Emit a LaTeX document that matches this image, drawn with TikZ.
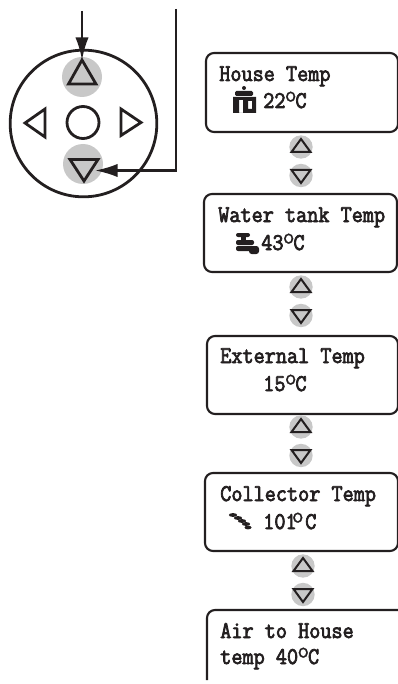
\documentclass[tikz,border=0pt]{standalone}
\usepackage{fontspec}
\usetikzlibrary{arrows.meta}
\newfontfamily\lcdfont{Latin Modern Mono}[FakeBold=3,FakeStretch=0.9]
\newfontfamily\degfont{Latin Modern Mono}[FakeBold=1]
\definecolor{ink}{HTML}{231F20}
\definecolor{padgray}{HTML}{C8C8C8}
\newcommand{\degs}{\kern-0.5pt\smash{\raisebox{4.8pt}{\fontsize{17pt}{17pt}\selectfont\degfont o}}\kern-0.8pt}
\tikzset{
  x=0.75pt,y=-0.75pt,
  ink line/.style={draw=ink,line width=2.1pt,line join=miter},
  lcdbox/.style={draw=ink,line width=1.6pt,rounded corners=6pt},
  lcdtext/.style={anchor=base west,inner sep=0pt,text=ink,font=\fontsize{18pt}{20pt}\selectfont\lcdfont},
  pad/.style={circle,fill=padgray,minimum size=30pt,inner sep=0pt},
  smallpad/.style={circle,fill=padgray,minimum size=17.5pt,inner sep=0pt},
  feed/.style={draw=ink,line width=1.7pt,-{Latex[length=17pt,width=10pt,inset=4pt]}},
  pic icon/.style={fill=ink,draw=none},
}
\newcommand{\smallarrows}[3]{%
  \node[smallpad] (#1u) at (#2,#3) {};
  \node[smallpad] (#1d) at (#2,#3+28.5) {};
  \draw[draw=ink,line width=1.5pt] (#2-9.5,#3+5) -- (#2,#3-8) -- (#2+9.5,#3+5) -- cycle;
  \draw[draw=ink,line width=1.5pt] (#2-9.5,#3+23) -- (#2,#3+36) -- (#2+9.5,#3+23) -- cycle;
}
\begin{document}
\begin{tikzpicture}
\useasboundingbox (0,0) rectangle (398,684);
% keypad
\node[circle,draw=ink,line width=2.1pt,minimum size=110pt,inner sep=0pt] (ring) at (83.5,123.5) {};
\node[pad] (up) at (82,77) {};
\node[pad] (down) at (83,164) {};
\draw[ink line] (68.5,84) -- (82,60) -- (96,84) -- cycle;
\draw[ink line] (70,159.5) -- (84,181) -- (98,159.5) -- cycle;
\draw[ink line] (45,109) -- (25,123) -- (45,137) -- cycle;
\draw[ink line] (121,109) -- (141,122.5) -- (121,135.5) -- cycle;
\node[circle,draw=ink,line width=2.1pt,minimum size=24pt,inner sep=0pt] (ok) at (83,122.5) {};
% connectors
\coordinate (startA) at (82,11);
\coordinate (startB) at (176,9);
\coordinate (bend) at (176,170.5);
\coordinate (tipA) at (82,60);
\coordinate (tipB) at (95,170.5);
\draw[feed] (startA) -- (tipA);
\draw[feed] (startB) -- (bend) -- (tipB);
% boxes
\draw[lcdbox] (206,53) rectangle (398,132);
\draw[lcdbox] (204,194) rectangle (397,272);
\draw[lcdbox] (207,336) rectangle (398,414);
\draw[lcdbox] (205,473) rectangle (398,551);
\draw[lcdbox] (207,680) -- (207,610) -- (398,610);
% text
\node[lcdtext] (t1) at (219,81) {House Temp};
\node[lcdtext] (t1b) at (263,108) {22\degs C};
\node[lcdtext] (t2) at (218,222) {Water tank Temp};
\node[lcdtext] (t2b) at (261,250) {43\degs C};
\node[lcdtext] (t3) at (220,363) {External Temp};
\node[lcdtext] (t3b) at (263,391) {15\degs C};
\node[lcdtext] (t4) at (220,501) {Collector Temp};
\node[lcdtext] (t4b) at (263,529) {101\kern-3pt\degs\kern2pt C};
\node[lcdtext] (t5) at (220,638) {Air to House};
\node[lcdtext] (t5b) at (220,664) {temp 40\degs C};
% icons
\fill[pic icon] (244,88) circle (2);
\fill[pic icon,rounded corners=1pt] (235,91) rectangle (253,96);
\fill[pic icon,even odd rule] (233,97) rectangle (256,113) (239,100) rectangle (243,113) (248,101) rectangle (252,109);
\fill[pic icon,rounded corners=1.5pt] (236,233) rectangle (250,237);
\fill[pic icon] (241,236) rectangle (246,241);
\fill[pic icon,rounded corners=1.5pt] (236,240) rectangle (254,245);
\fill[pic icon,rounded corners=1.5pt] (236,246) rectangle (254,251);
\fill[pic icon,rounded corners=2pt] (249,246) rectangle (259,254);
\foreach \a/\b in {233/515,238/518,242/521,246/524}
  \fill[pic icon] (\a,\b) ellipse (4.2 and 1.9);
\fill[pic icon] (248,527.5) ellipse (3.5 and 1.9);
% small arrows
\smallarrows{a}{301}{147}
\smallarrows{b}{301}{287}
\smallarrows{c}{301}{427}
\smallarrows{d}{303}{566}
\end{tikzpicture}
\end{document}
